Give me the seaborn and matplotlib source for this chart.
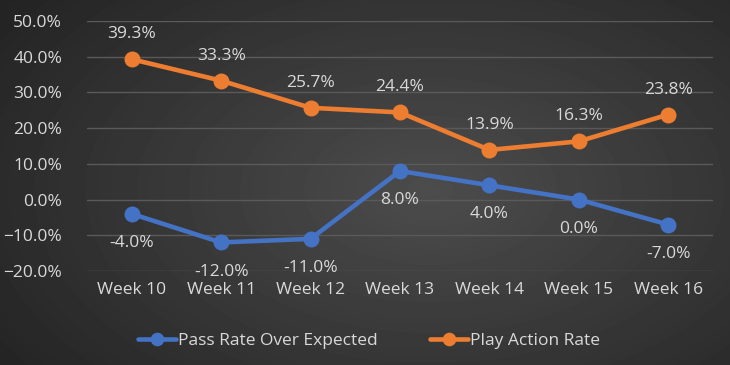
import numpy as np
import pandas as pd
import matplotlib
matplotlib.use("Agg")
import matplotlib.pyplot as plt
import seaborn as sns
from matplotlib.ticker import PercentFormatter

weeks = ["Week 10", "Week 11", "Week 12", "Week 13", "Week 14", "Week 15", "Week 16"]
pass_rate = [-0.04, -0.12, -0.11, 0.08, 0.04, 0.00, -0.07]
play_action = [0.393, 0.333, 0.257, 0.244, 0.139, 0.163, 0.238]
series_names = ["Pass Rate Over Expected", "Play Action Rate"]
colors = ["#4472C4", "#ED7D31"]

df = pd.DataFrame({
    "week": weeks * 2,
    "value": pass_rate + play_action,
    "series": [series_names[0]] * len(weeks) + [series_names[1]] * len(weeks),
})

sns.set_style("dark")
plt.rcParams["font.family"] = ["Open Sans", "DejaVu Sans"]
text_col = "#D9D9D9"
fs = 12.5

fig = plt.figure(figsize=(7.3, 3.65), dpi=100)

# radial gradient background
bg = fig.add_axes([0, 0, 1, 1], zorder=0)
yy, xx = np.mgrid[0:365, 0:730]
r = np.sqrt(((xx - 430) / 560.0) ** 2 + ((yy - 190) / 330.0) ** 2)
shade = np.clip(0.30 - 0.17 * r, 0.13, 0.30)
bg.imshow(shade, cmap="gray", vmin=0, vmax=1, aspect="auto", extent=[0, 1, 0, 1])
bg.axis("off")

ax = fig.add_axes([87 / 730, 1 - 271 / 365, 626 / 730, 250 / 365], zorder=1)
ax.set_facecolor("none")

sns.lineplot(data=df, x="week", y="value", hue="series", palette=colors,
             marker="o", markersize=11.5, markeredgewidth=0, linewidth=3.3,
             sort=False, ax=ax)

ax.set_xlim(-0.5, len(weeks) - 0.5)
ax.set_ylim(-0.2, 0.5)
ax.set_yticks(np.arange(-0.2, 0.51, 0.1))
ax.yaxis.set_major_formatter(PercentFormatter(1.0, decimals=1))
ax.grid(axis="y", color="#5a5a5a", linewidth=1)
ax.grid(axis="x", visible=False)
for s in ax.spines.values():
    s.set_visible(False)
ax.tick_params(axis="both", colors=text_col, labelsize=fs, length=0)
ax.tick_params(axis="y", pad=18)
ax.tick_params(axis="x", pad=8)
ax.set_xlabel("")
ax.set_ylabel("")

for i, v in enumerate(pass_rate):
    ax.annotate(f"{v * 100:.1f}%", (i, v), xytext=(0, -21), textcoords="offset points",
                ha="center", va="center", color=text_col, fontsize=fs)
for i, v in enumerate(play_action):
    ax.annotate(f"{v * 100:.1f}%", (i, v), xytext=(0, 18), textcoords="offset points",
                ha="center", va="center", color=text_col, fontsize=fs)

leg = ax.legend(loc="upper center", bbox_to_anchor=(0.45, -0.185), ncol=2, frameon=False,
                fontsize=fs, handlelength=2.2, handletextpad=0.1, columnspacing=3,
                markerscale=0.85)
for t in leg.get_texts():
    t.set_color(text_col)

fig.savefig("out.png", dpi=100)
